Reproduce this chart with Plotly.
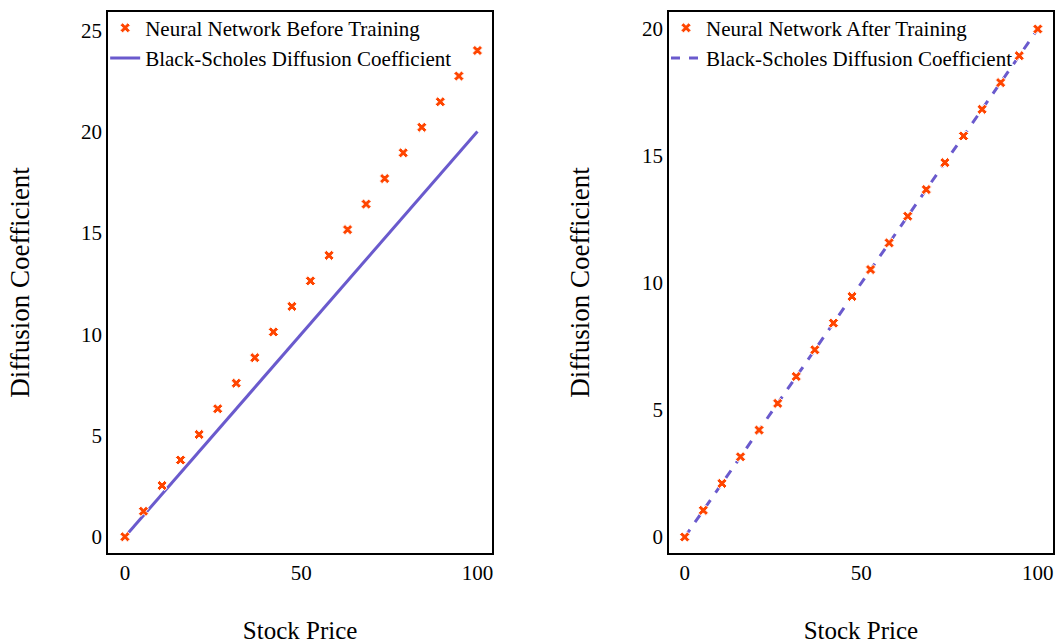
import plotly.graph_objects as go
from plotly.subplots import make_subplots

stock_price = [0.0, 5.26, 10.53, 15.79, 21.05, 26.32, 31.58, 36.84, 42.11, 47.37,
               52.63, 57.89, 63.16, 68.42, 73.68, 78.95, 84.21, 89.47, 94.74, 100.0]
nn_before = [0.0, 1.26, 2.53, 3.79, 5.05, 6.32, 7.58, 8.84, 10.11, 11.37,
             12.63, 13.89, 15.16, 16.42, 17.68, 18.95, 20.21, 21.47, 22.74, 24.0]
nn_after = [0.0, 1.05, 2.11, 3.16, 4.21, 5.26, 6.32, 7.37, 8.42, 9.47,
            10.53, 11.58, 12.63, 13.68, 14.74, 15.79, 16.84, 17.89, 18.95, 20.0]
bs_coef = [0.0, 1.05, 2.11, 3.16, 4.21, 5.26, 6.32, 7.37, 8.42, 9.47,
           10.53, 11.58, 12.63, 13.68, 14.74, 15.79, 16.84, 17.89, 18.95, 20.0]

ORANGE = "#FF4500"
PURPLE = "#6A5ACD"
FONT = "Liberation Serif"

fig = make_subplots(rows=1, cols=2, horizontal_spacing=0.187)

fig.add_trace(go.Scatter(
    x=stock_price, y=bs_coef, mode="lines", name="Black-Scholes Diffusion Coefficient",
    line=dict(color=PURPLE, width=3), legend="legend", legendrank=2), row=1, col=1)
fig.add_trace(go.Scatter(
    x=stock_price, y=nn_before, mode="markers", name="Neural Network Before Training",
    marker=dict(symbol="x", size=9, color=ORANGE, line=dict(color="white", width=1)),
    legend="legend", legendrank=1), row=1, col=1)

fig.add_trace(go.Scatter(
    x=stock_price, y=bs_coef, mode="lines", name="Black-Scholes Diffusion Coefficient",
    line=dict(color=PURPLE, width=3, dash="dash"), legend="legend2", legendrank=2), row=1, col=2)
fig.add_trace(go.Scatter(
    x=stock_price, y=nn_after, mode="markers", name="Neural Network After Training",
    marker=dict(symbol="x", size=9, color=ORANGE, line=dict(color="white", width=1)),
    legend="legend2", legendrank=1), row=1, col=2)

axis_common = dict(showgrid=False, zeroline=False, showline=True, linecolor="black",
                   linewidth=1.5, mirror=True, ticks="",
                   tickfont=dict(family=FONT, size=21, color="black"))

fig.update_xaxes(**axis_common, tickvals=[0, 50, 100],
                 title=dict(text="Stock Price", font=dict(family=FONT, size=25, color="black"),
                            standoff=38))
fig.update_yaxes(**axis_common,
                 title=dict(text="Diffusion Coefficient", font=dict(family=FONT, size=27, color="black"),
                            standoff=44))

fig.update_xaxes(range=[-4.8, 104.2], domain=[0, 0.4066], row=1, col=1)
fig.update_xaxes(range=[-4.5, 104.3], domain=[0.5935, 1], row=1, col=2)
fig.update_yaxes(range=[-0.8, 25.9], tickvals=[0, 5, 10, 15, 20, 25], row=1, col=1)
fig.update_yaxes(range=[-0.63, 20.67], tickvals=[0, 5, 10, 15, 20], row=1, col=2)

legend_common = dict(bgcolor="rgba(255,255,255,0)", borderwidth=0,
                     font=dict(family=FONT, size=21, color="black"),
                     xanchor="left", yanchor="top", tracegroupgap=0, itemwidth=30)
fig.update_layout(
    width=1059, height=644,
    margin=dict(l=108, r=4, t=12, b=90),
    plot_bgcolor="white", paper_bgcolor="white",
    legend=dict(**legend_common, x=-0.003, y=1.008),
    legend2=dict(**legend_common, x=0.5905, y=1.008),
)

fig.write_html("out.html")
